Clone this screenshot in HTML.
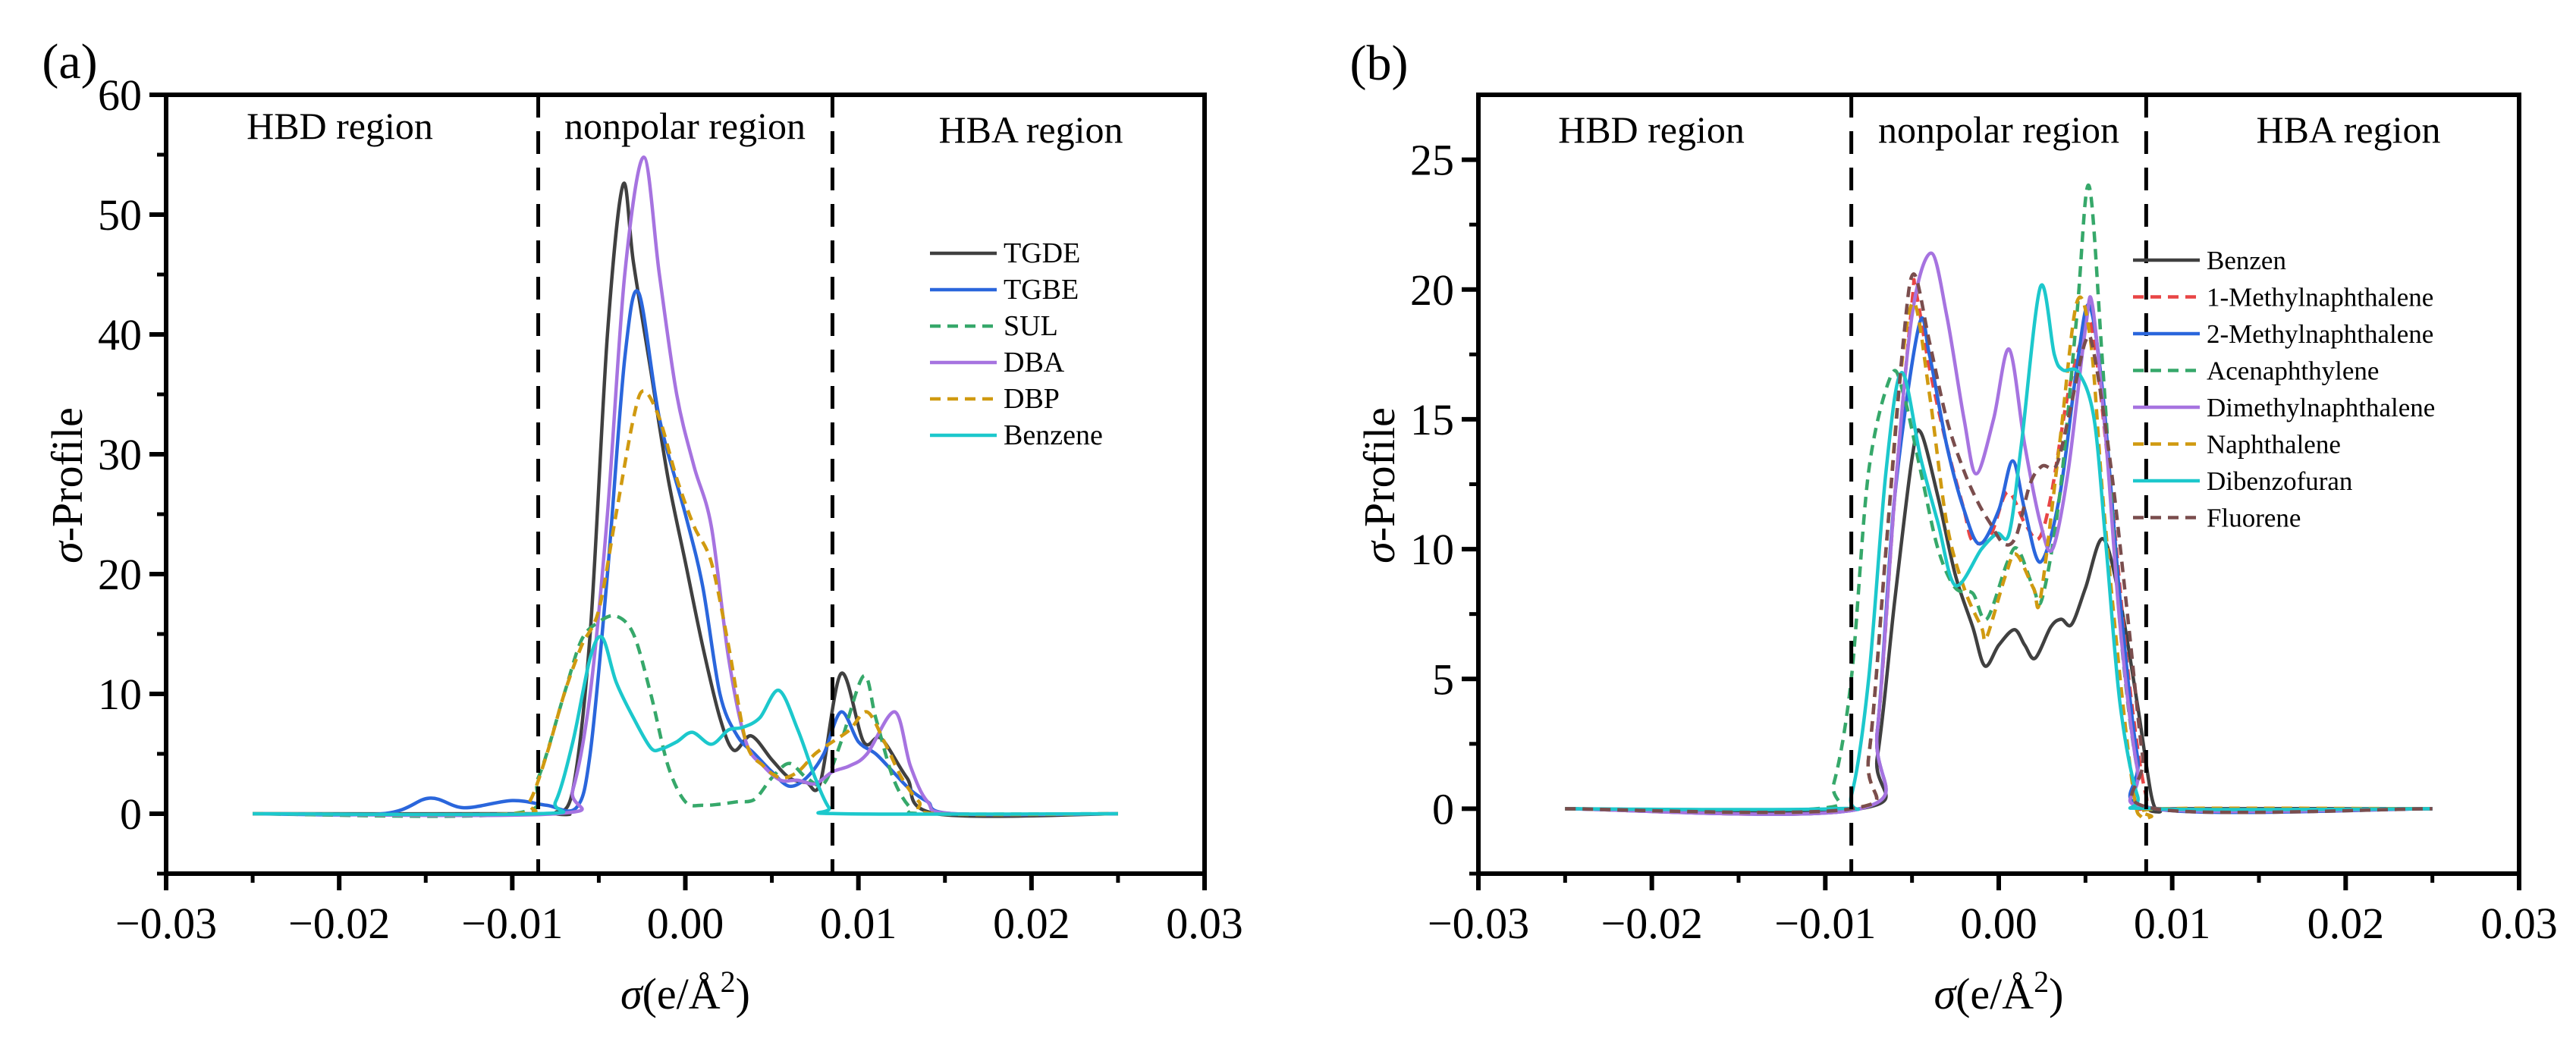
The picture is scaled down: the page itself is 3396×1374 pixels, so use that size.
<!DOCTYPE html>
<html><head><meta charset="utf-8"><style>
html,body{margin:0;padding:0;background:#fff;}
svg{display:block;font-family:"Liberation Serif",serif;}
text{font-family:"Liberation Serif",serif;}
</style></head><body>
<svg id="fig" width="3396" height="1374" viewBox="0 0 3396 1374" xmlns="http://www.w3.org/2000/svg"></svg>
<script>
// ---------- Panel (a) data (x in units of 0.001 e/Å²) ----------
const aTicksX = [-0.03,-0.02,-0.01,0.00,0.01,0.02,0.03];
const aTickLabelsX = ["\u22120.03","\u22120.02","\u22120.01","0.00","0.01","0.02","0.03"];
const aTicksY = [0,10,20,30,40,50,60];
const aTickLabelsY = ["0","10","20","30","40","50","60"];
const aNames = ["TGDE","TGBE","SUL","DBA","DBP","Benzene"];
const aTGDEx = [-25,-8,-7.5,-6.5,-5.5,-4.5,-3.6,-3,-2,-1,0,1,2,2.8,3.8,5,6,7,7.8,9,10.3,11.3,12.8,14.5,25];
const aTGDEy = [0,0,0.1,2,15,40,52.5,46,37,28,21,14,8,5.3,6.5,4.5,3,2.6,2.6,11.7,6,6.3,3,0,0];
const aTGBEx = [-25,-17.5,-14.8,-12.8,-10,-8,-6.3,-5.5,-4.5,-3.5,-2.7,-1.5,0,1,2,3,4,5,6,7,8,9,10,11,12,13,14,15.5,25];
const aTGBEy = [0,0,1.3,0.5,1.1,0.7,0.5,5,20,38,43.5,33,25,19,10,6.5,5,3.5,2.3,3,5,8.5,6,5,3.5,2,1,0,0];
const aSULx = [-25,-10,-8.5,-7,-6,-5,-4,-3,-2,-1,0,1,2,3,4,5,6,7,8,9,10.3,11,12,13,14,25];
const aSULy = [0,0,3,10,14.5,16,16.5,15,10,4,1,0.7,0.8,1,1.2,3,4.2,3,2.5,6,11.5,8,3,0.5,0,0];
const aDBAx = [-25,-7.5,-6.5,-5.5,-4.5,-3.5,-2.4,-1.5,-0.5,0.5,1.5,2.5,3.5,4.5,5.5,6.5,7.5,8.5,9.5,10.5,12.1,13,14,15.5,25];
const aDBAy = [0,0,2,10,25,45,54.8,45,35,29,24,13,6,4,2.8,2.8,2.5,3.5,4,5,8.5,4,1,0,0];
const aDBPx = [-25,-10,-9,-8,-7,-6,-5,-4,-3,-2.4,-1.5,-0.5,0.5,1.5,2.5,3.5,4.5,5.5,6.5,7.5,8.5,9.5,10.5,11.5,12.5,13.5,14.5,25];
const aDBPy = [0,0,1,5,10,14,17,25,33,35.3,33,28,24,21,14,6,4,3,3.5,5,6,7,8.5,6,3,1,0,0];
const aBENx = [-25,-8.5,-7.5,-6.5,-5.5,-4.8,-4,-3,-2,-1.4,-0.5,0.4,1.5,2.5,3.3,4.3,5.4,6.5,7.5,8.3,9,25];
const aBENy = [0,0,1,6,13,14.7,11,8,5.5,5.4,6,6.8,5.8,7,7.2,8,10.3,7,3,0.5,0,0];

// ---------- Panel (b) data ----------
const bTicksX = [-0.03,-0.02,-0.01,0.00,0.01,0.02,0.03];
const bTickLabelsX = ["\u22120.03","\u22120.02","\u22120.01","0.00","0.01","0.02","0.03"];
const bTicksY = [0,5,10,15,20,25];
const bTickLabelsY = ["0","5","10","15","20","25"];
const bNames = ["Benzen","1-Methylnaphthalene","2-Methylnaphthalene","Acenaphthylene","Dimethylnaphthalene","Naphthalene","Dibenzofuran","Fluorene"];
const bBENx = [-25,-8,-7,-6,-5,-4.5,-3.5,-2.5,-1.5,-0.8,0,0.9,1.5,2.1,3,3.6,4.2,5,6,7,8,8.8,9.3,10,25];
const bBENy = [0,0,2,8,13.5,14.5,12,9,7,5.5,6.3,6.9,6.3,5.8,7,7.3,7.1,8.5,10.4,8,4,0.5,-0.1,0,0];
const bM1x = [-25,-8,-7,-6,-5,-4.8,-4,-3,-2,-1.5,-0.5,0.5,1.5,2.3,3,4,5,5.5,6.5,7.5,8.5,9.5,25];
const bM1y = [0,0,3,12,19.5,20,17,14,11.5,10.3,10.5,12.2,11,10.4,12,16,18.5,18,12,5,0.5,0,0];
const bM2x = [-25,-8,-7,-6,-4.6,-4,-3,-2,-1.1,0,0.8,1.5,2.4,3.5,4.5,5.2,6,7,8,9,25];
const bM2y = [0,0,3,12,18.6,17.5,14,11.5,10.2,11.5,13.4,11.5,9.5,12,17,19.4,16,8,2,0,0];
const bACEx = [-25,-10.5,-9.5,-8.5,-7.5,-6.2,-5.5,-4.5,-3.5,-2.5,-1.5,-0.7,0.5,1.1,2,2.5,3.5,4.5,5.2,6,7,8,9,25];
const bACEy = [0,0,1,5,13,16.7,16,13,10,8.5,8.3,7.3,9.5,10,8.5,8.1,12,19,24,17,7,1.5,0,0];
const bDMNx = [-25,-8,-7,-6,-5,-3.9,-3,-2,-1.3,-0.3,0.6,1.5,2.4,3.1,4,5,5.4,6.2,7,8,9,25];
const bDMNy = [0,0,3,12,19,21.4,19,15,12.9,15,17.7,14,11,10,13,18.5,19.4,14,7,1.5,0,0];
const bNAPx = [-25,-8.5,-7.5,-6.5,-5.7,-4.9,-4,-3,-2,-1,-0.7,0.4,1,2,2.4,3.5,4.5,5.3,6,7,7.8,8.2,8.8,9.5,25];
const bNAPy = [0,0,2,10,16.5,19.5,16,11,8.5,7,6.6,9,9.8,8.5,8.1,14,19.5,18,12,5,0.5,-0.3,-0.3,0,0];
const bDBFx = [-25,-9.5,-8.5,-7.5,-6.5,-5.6,-4.5,-3.5,-2.5,-1,-0.1,0.6,1.3,2.4,3.2,3.7,4.6,5.5,6.2,7,8,9,25];
const bDBFy = [0,0,0.5,5,13,16.8,13.5,11,8.6,10,10.6,10.6,14,20.1,17.5,16.9,16.8,15,10,4,0.5,0,0];
const bFLUx = [-25,-8.5,-7.5,-6.5,-5.5,-4.9,-4,-3,-2,-1.2,-0.5,0.3,1,1.8,2.5,3.3,4,5,5.5,6.5,7.5,8.3,9,25];
const bFLUy = [0,0,2,10,18,20.6,18,15,13,11.8,11,10.2,10.5,12.5,13.2,13.2,15,18,17.5,13,7,2,0,0];

const NS = "http://www.w3.org/2000/svg";
const svg = document.getElementById("fig");
function mk(tag, attrs, parent){
  const e = document.createElementNS(NS, tag);
  for (const k in attrs) e.setAttribute(k, attrs[k]);
  if (tag==="text") e.setAttribute("font-family","Liberation Serif, serif");
  (parent||svg).appendChild(e);
  return e;
}
function smoothPath(pts){
  let d = "M"+pts[0][0].toFixed(1)+","+pts[0][1].toFixed(1);
  for (let i=0;i<pts.length-1;i++){
    const p0=pts[Math.max(0,i-1)], p1=pts[i], p2=pts[i+1], p3=pts[Math.min(pts.length-1,i+2)];
    const t=0.16;
    const c1=[p1[0]+(p2[0]-p0[0])*t, p1[1]+(p2[1]-p0[1])*t];
    const c2=[p2[0]-(p3[0]-p1[0])*t, p2[1]-(p3[1]-p1[1])*t];
    d+=" C"+c1[0].toFixed(1)+","+c1[1].toFixed(1)+" "+c2[0].toFixed(1)+","+c2[1].toFixed(1)+" "+p2[0].toFixed(1)+","+p2[1].toFixed(1);
  }
  return d;
}

function panel(cfg){
  const g = mk("g",{});
  
  
  const X = v => cfg.L + (v - cfg.xmin)/(cfg.xmax-cfg.xmin)*(cfg.R-cfg.L);
  const Y = v => cfg.B - (v - cfg.ymin)/(cfg.ymax-cfg.ymin)*(cfg.B-cfg.T);
  const pl = mk("text",{x:cfg.labelX,y:cfg.labelY,"font-size":66,"text-anchor":"middle"},g);
  pl.textContent = cfg.label;
  
  
  cfg.series.forEach((s,i)=>{
    const pts = s.x.map((xv,j)=>[X(xv/1000), Y(s.y[j])]);
    const p = mk("path",{d:smoothPath(pts),fill:"none",stroke:s.color,"stroke-width":4.5,"stroke-linejoin":"round"},g);
    if (s.dash) p.setAttribute("stroke-dasharray","14 9");
    
    
  });
  [-0.0085,0.0085].forEach((v,i)=>{
    const l = mk("line",{x1:X(v),x2:X(v),y1:cfg.T,y2:cfg.B,stroke:"#000","stroke-width":5,"stroke-dasharray":"30 18"},g);
    
    
  });
  const fr = mk("rect",{x:cfg.L,y:cfg.T,width:cfg.R-cfg.L,height:cfg.B-cfg.T,fill:"none",stroke:"#000","stroke-width":6},g);
  
  
  cfg.ticksX.forEach((v,i)=>{
    const t = mk("line",{x1:X(v),x2:X(v),y1:cfg.B,y2:cfg.B+22,stroke:"#000","stroke-width":6},g);
    
    
    const lab = mk("text",{x:X(v),y:cfg.B+85,"font-size":58,"text-anchor":"middle"},g);
    lab.textContent = cfg.ticksXLabels[i];
    
    
    if (i<cfg.ticksX.length-1){
      const mv=(v+cfg.ticksX[i+1])/2;
      const m = mk("line",{x1:X(mv),x2:X(mv),y1:cfg.B,y2:cfg.B+12,stroke:"#000","stroke-width":5},g);
      
      
    }
  });
  const step = cfg.ticksY[1]-cfg.ticksY[0];
  cfg.ticksY.forEach((v,i)=>{
    const t = mk("line",{x1:cfg.L-22,x2:cfg.L,y1:Y(v),y2:Y(v),stroke:"#000","stroke-width":6},g);
    
    
    const lab = mk("text",{x:cfg.L-32,y:Y(v)+20,"font-size":58,"text-anchor":"end"},g);
    lab.textContent = cfg.ticksYLabels[i];
    
    
  });
  for (let v=cfg.ticksY[0]-step/2; v<cfg.ymax; v+=step){
    const m = mk("line",{x1:cfg.L-12,x2:cfg.L,y1:Y(v),y2:Y(v),stroke:"#000","stroke-width":5},g);
    
    
  }
  const regions=[["HBD region",cfg.r1,'hbd-region-label'],["nonpolar region",cfg.r2,'nonpolar-region-label'],["HBA region",cfg.r3,'hba-region-label']];
  regions.forEach(r=>{
    const t = mk("text",{x:r[1][0],y:r[1][1],"font-size":50,"text-anchor":"middle"},g);
    t.textContent = r[0];
    
    
  });
  const yt = mk("text",{x:0,y:0,"font-size":58,"text-anchor":"middle",transform:"translate("+cfg.ytX+","+cfg.ytY+") rotate(-90)"},g);
  yt.innerHTML = '<tspan font-style="italic">\u03c3</tspan>-Profile';
  
  
  const xt = mk("text",{x:(cfg.L+cfg.R)/2,y:1330,"font-size":58,"text-anchor":"middle"},g);
  xt.innerHTML = '<tspan font-style="italic">\u03c3</tspan>(e/\u00c5<tspan dy="-22" font-size="40">2</tspan><tspan dy="22">)</tspan>';
  
  
  const lg = mk("g",{},g);
  
  
  cfg.series.forEach((s,i)=>{
    const y = cfg.legY + i*cfg.legDy;
    const e = mk("g",{},lg);
    
    
    const l = mk("line",{x1:cfg.legX,x2:cfg.legX+88,y1:y,y2:y,stroke:s.color,"stroke-width":4.5},e);
    if (s.dash) l.setAttribute("stroke-dasharray","14 9");
    const t = mk("text",{x:cfg.legX+97,y:y+12,"font-size":cfg.legFont},e);
    t.textContent = s.label;
  });
}

panel({name:"panel-a",label:"(a)",labelX:92,labelY:103,L:219,R:1588,T:125,B:1152,xmin:-0.03,xmax:0.03,ymin:-5,ymax:60,
  ticksX:aTicksX,ticksXLabels:aTickLabelsX,ticksY:aTicksY,ticksYLabels:aTickLabelsY,
  r1:[448,183],r2:[903,183],r3:[1359,188],ytX:108,ytY:640,legX:1226,legY:334,legDy:48,legFont:38,
  series:[
    {key:"tgde",label:aNames[0],x:aTGDEx,y:aTGDEy,color:"#404040"},
    {key:"tgbe",label:aNames[1],x:aTGBEx,y:aTGBEy,color:"#2a66dc"},
    {key:"sul",label:aNames[2],x:aSULx,y:aSULy,color:"#36a86a",dash:true},
    {key:"dba",label:aNames[3],x:aDBAx,y:aDBAy,color:"#a673e0"},
    {key:"dbp",label:aNames[4],x:aDBPx,y:aDBPy,color:"#d09a10",dash:true},
    {key:"benzene",label:aNames[5],x:aBENx,y:aBENy,color:"#1cc8cc"}
  ]});
panel({name:"panel-b",label:"(b)",labelX:1818,labelY:105,L:1949,R:3321,T:125,B:1152,xmin:-0.03,xmax:0.03,ymin:-2.5,ymax:27.5,
  ticksX:bTicksX,ticksXLabels:bTickLabelsX,ticksY:bTicksY,ticksYLabels:bTickLabelsY,
  r1:[2177,188],r2:[2635,188],r3:[3096,188],ytX:1838,ytY:640,legX:2812,legY:343,legDy:48.5,legFont:35,
  series:[
    {key:"benzen",label:bNames[0],x:bBENx,y:bBENy,color:"#404040"},
    {key:"1-methylnaphthalene",label:bNames[1],x:bM1x,y:bM1y,color:"#e84545",dash:true},
    {key:"2-methylnaphthalene",label:bNames[2],x:bM2x,y:bM2y,color:"#2a66dc"},
    {key:"acenaphthylene",label:bNames[3],x:bACEx,y:bACEy,color:"#36a86a",dash:true},
    {key:"dimethylnaphthalene",label:bNames[4],x:bDMNx,y:bDMNy,color:"#a673e0"},
    {key:"naphthalene",label:bNames[5],x:bNAPx,y:bNAPy,color:"#d09a10",dash:true},
    {key:"dibenzofuran",label:bNames[6],x:bDBFx,y:bDBFy,color:"#1cc8cc"},
    {key:"fluorene",label:bNames[7],x:bFLUx,y:bFLUy,color:"#7a4d4d",dash:true}
  ]});
</script>
</body></html>
